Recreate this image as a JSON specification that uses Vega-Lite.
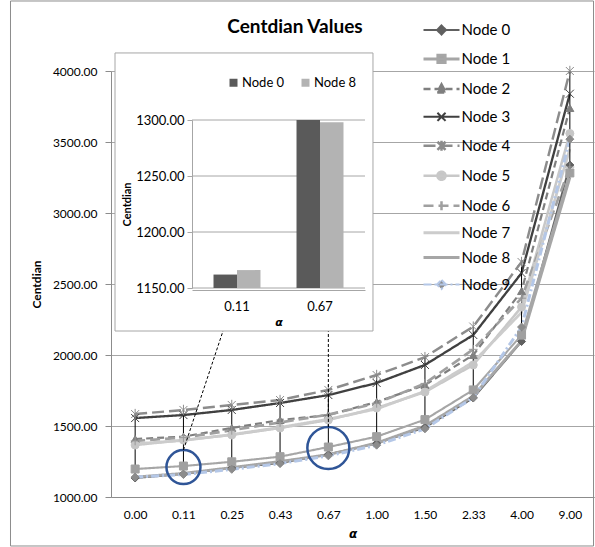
{
  "$schema": "https://vega.github.io/schema/vega-lite/v6.json",
  "width": 483,
  "height": 426,
  "autosize": {"type": "none"},
  "padding": {"left": 111, "top": 71, "right": 1, "bottom": 50},
  "background": "white",
  "config": {"view": {"stroke": null}, "font": "Lato", "axis": {"labelColor": "black", "titleColor": "black"}, "legend": {"labelColor": "black"}},
  "datasets": {
    "centdian": [
      {"node": "Node 0", "alpha": 0, "value": 1134}, {"node": "Node 0", "alpha": 0.11, "value": 1162}, {"node": "Node 0", "alpha": 0.25, "value": 1204}, {"node": "Node 0", "alpha": 0.43, "value": 1240}, {"node": "Node 0", "alpha": 0.67, "value": 1300}, {"node": "Node 0", "alpha": 1, "value": 1378}, {"node": "Node 0", "alpha": 1.5, "value": 1490}, {"node": "Node 0", "alpha": 2.33, "value": 1697}, {"node": "Node 0", "alpha": 4, "value": 2095}, {"node": "Node 0", "alpha": 9, "value": 3338},
      {"node": "Node 1", "alpha": 0, "value": 1197}, {"node": "Node 1", "alpha": 0.11, "value": 1218}, {"node": "Node 1", "alpha": 0.25, "value": 1248}, {"node": "Node 1", "alpha": 0.43, "value": 1284}, {"node": "Node 1", "alpha": 0.67, "value": 1352}, {"node": "Node 1", "alpha": 1, "value": 1425}, {"node": "Node 1", "alpha": 1.5, "value": 1545}, {"node": "Node 1", "alpha": 2.33, "value": 1754}, {"node": "Node 1", "alpha": 4, "value": 2140}, {"node": "Node 1", "alpha": 9, "value": 3282},
      {"node": "Node 2", "alpha": 0, "value": 1408}, {"node": "Node 2", "alpha": 0.11, "value": 1425}, {"node": "Node 2", "alpha": 0.25, "value": 1486}, {"node": "Node 2", "alpha": 0.43, "value": 1542}, {"node": "Node 2", "alpha": 0.67, "value": 1577}, {"node": "Node 2", "alpha": 1, "value": 1669}, {"node": "Node 2", "alpha": 1.5, "value": 1789}, {"node": "Node 2", "alpha": 2.33, "value": 2000}, {"node": "Node 2", "alpha": 4, "value": 2450}, {"node": "Node 2", "alpha": 9, "value": 3739},
      {"node": "Node 3", "alpha": 0, "value": 1556}, {"node": "Node 3", "alpha": 0.11, "value": 1577}, {"node": "Node 3", "alpha": 0.25, "value": 1613}, {"node": "Node 3", "alpha": 0.43, "value": 1662}, {"node": "Node 3", "alpha": 0.67, "value": 1718}, {"node": "Node 3", "alpha": 1, "value": 1803}, {"node": "Node 3", "alpha": 1.5, "value": 1930}, {"node": "Node 3", "alpha": 2.33, "value": 2141}, {"node": "Node 3", "alpha": 4, "value": 2577}, {"node": "Node 3", "alpha": 9, "value": 3840},
      {"node": "Node 4", "alpha": 0, "value": 1584}, {"node": "Node 4", "alpha": 0.11, "value": 1613}, {"node": "Node 4", "alpha": 0.25, "value": 1648}, {"node": "Node 4", "alpha": 0.43, "value": 1683}, {"node": "Node 4", "alpha": 0.67, "value": 1754}, {"node": "Node 4", "alpha": 1, "value": 1859}, {"node": "Node 4", "alpha": 1.5, "value": 1985}, {"node": "Node 4", "alpha": 2.33, "value": 2200}, {"node": "Node 4", "alpha": 4, "value": 2655}, {"node": "Node 4", "alpha": 9, "value": 4000},
      {"node": "Node 5", "alpha": 0, "value": 1366}, {"node": "Node 5", "alpha": 0.11, "value": 1401}, {"node": "Node 5", "alpha": 0.25, "value": 1437}, {"node": "Node 5", "alpha": 0.43, "value": 1486}, {"node": "Node 5", "alpha": 0.67, "value": 1542}, {"node": "Node 5", "alpha": 1, "value": 1627}, {"node": "Node 5", "alpha": 1.5, "value": 1739}, {"node": "Node 5", "alpha": 2.33, "value": 1930}, {"node": "Node 5", "alpha": 4, "value": 2338}, {"node": "Node 5", "alpha": 9, "value": 3560},
      {"node": "Node 6", "alpha": 0, "value": 1395}, {"node": "Node 6", "alpha": 0.11, "value": 1418}, {"node": "Node 6", "alpha": 0.25, "value": 1470}, {"node": "Node 6", "alpha": 0.43, "value": 1525}, {"node": "Node 6", "alpha": 0.67, "value": 1580}, {"node": "Node 6", "alpha": 1, "value": 1660}, {"node": "Node 6", "alpha": 1.5, "value": 1800}, {"node": "Node 6", "alpha": 2.33, "value": 2040}, {"node": "Node 6", "alpha": 4, "value": 2400}, {"node": "Node 6", "alpha": 9, "value": 3324},
      {"node": "Node 7", "alpha": 0, "value": 1375}, {"node": "Node 7", "alpha": 0.11, "value": 1398}, {"node": "Node 7", "alpha": 0.25, "value": 1440}, {"node": "Node 7", "alpha": 0.43, "value": 1490}, {"node": "Node 7", "alpha": 0.67, "value": 1548}, {"node": "Node 7", "alpha": 1, "value": 1620}, {"node": "Node 7", "alpha": 1.5, "value": 1745}, {"node": "Node 7", "alpha": 2.33, "value": 1950}, {"node": "Node 7", "alpha": 4, "value": 2300}, {"node": "Node 7", "alpha": 9, "value": 3450},
      {"node": "Node 8", "alpha": 0, "value": 1140}, {"node": "Node 8", "alpha": 0.11, "value": 1166}, {"node": "Node 8", "alpha": 0.25, "value": 1207}, {"node": "Node 8", "alpha": 0.43, "value": 1250}, {"node": "Node 8", "alpha": 0.67, "value": 1298}, {"node": "Node 8", "alpha": 1, "value": 1380}, {"node": "Node 8", "alpha": 1.5, "value": 1500}, {"node": "Node 8", "alpha": 2.33, "value": 1710}, {"node": "Node 8", "alpha": 4, "value": 2100}, {"node": "Node 8", "alpha": 9, "value": 3250},
      {"node": "Node 9", "alpha": 0, "value": 1140}, {"node": "Node 9", "alpha": 0.11, "value": 1158}, {"node": "Node 9", "alpha": 0.25, "value": 1195}, {"node": "Node 9", "alpha": 0.43, "value": 1235}, {"node": "Node 9", "alpha": 0.67, "value": 1290}, {"node": "Node 9", "alpha": 1, "value": 1365}, {"node": "Node 9", "alpha": 1.5, "value": 1480}, {"node": "Node 9", "alpha": 2.33, "value": 1700}, {"node": "Node 9", "alpha": 4, "value": 2197}, {"node": "Node 9", "alpha": 9, "value": 3520}
    ]
  },
  "layer": [
    {
      "data": {"name": "centdian"},
      "transform": [{"window": [{"op": "dense_rank", "as": "k"}], "sort": [{"field": "alpha", "order": "ascending"}]}],
      "layer": [
        {
          "data": {"values": [{}]},
          "mark": {"type": "rect", "fill": "transparent", "stroke": "#8c8c8c", "strokeWidth": 1},
          "encoding": {
            "x": {"datum": -1.581, "type": "quantitative", "scale": {"domain": [0.5, 10.5], "nice": false, "zero": false}},
            "x2": {"datum": 10.49},
            "y": {"datum": 4493, "type": "quantitative", "scale": {"domain": [1000, 4000], "nice": false, "zero": false}},
            "y2": {"datum": 655}
          }
        },
        {
          "data": {"values": [{}]},
          "mark": {"type": "text", "text": "Centdian Values", "font": "Lato", "fontSize": 19, "fontWeight": "bold", "color": "black", "align": "center", "baseline": "middle"},
          "encoding": {
            "x": {"datum": 4.31, "type": "quantitative", "scale": {"domain": [0.5, 10.5], "nice": false, "zero": false}},
            "y": {"datum": 4310, "type": "quantitative", "scale": {"domain": [1000, 4000], "nice": false, "zero": false}}
          }
        },
        {
          "mark": {"type": "line"},
          "encoding": {
            "x": {"field": "k", "type": "quantitative", "scale": {"domain": [0.5, 10.5], "nice": false, "zero": false},
              "axis": {"orient": "bottom", "values": [1, 2, 3, 4, 5, 6, 7, 8, 9, 10], "labelExpr": "['0.00','0.11','0.25','0.43','0.67','1.00','1.50','2.33','4.00','9.00'][datum.value-1]", "grid": false, "ticks": false, "tickSize": 0, "domainColor": "#8c8c8c", "labelFontSize": 12, "labelPadding": 12, "labelFlush": false, "title": "α", "titleFont": "DejaVu Sans", "titleFontSize": 12, "titleFontWeight": "bold", "titleFontStyle": "italic", "titlePadding": 8}},
            "y": {"field": "value", "type": "quantitative", "scale": {"domain": [1000, 4000], "nice": false, "zero": false},
              "axis": {"orient": "left", "values": [1000, 1500, 2000, 2500, 3000, 3500, 4000], "format": ".2f", "grid": true, "gridColor": "#a6a6a6", "domainColor": "#8c8c8c", "tickColor": "#8c8c8c", "tickSize": 6, "labelPadding": 8, "labelFontSize": 12, "title": "Centdian", "titleFontSize": 12, "titleFontWeight": "bold", "titlePadding": 9}},
            "color": {"field": "node", "type": "nominal",
              "scale": {"domain": ["Node 0", "Node 1", "Node 2", "Node 3", "Node 4", "Node 5", "Node 6", "Node 7", "Node 8", "Node 9"], "range": ["#606060", "#a6a6a6", "#7f7f7f", "#404040", "#8c8c8c", "#c8c8c8", "#a0a0a0", "#cccccc", "#a6a6a6", "#b4c7e7"]},
              "legend": {"orient": "none", "legendX": 330.5, "legendY": -41, "title": null, "padding": 0, "symbolSize": 81, "labelFontSize": 15, "labelOffset": 34, "rowPadding": 9.95, "direction": "vertical",
                "encode": {
                  "labels": {"update": {"dx": {"value": 20}}},
                  "symbols": {"update": {
                  "shape": {"signal": "['M-4,0H4M0,-1L1,0L0,1L-1,0Z','M-4,0H4M-0.8,-0.8H0.8V0.8H-0.8Z','M-4,0H4M0,-1L1,0.8H-1Z','M-4,0H4M-0.9,-0.9L0.9,0.9M-0.9,0.9L0.9,-0.9','M-4,0H4M-0.9,-0.9L0.9,0.9M-0.9,0.9L0.9,-0.9M0,-1.1V1.1','M-4,0H4M0.9,0A0.9,0.9,0,1,1,-0.9,0A0.9,0.9,0,1,1,0.9,0Z','M-4,0H4M0,-1V1','M-4,0H4','M-4,0H4','M-4,0H4M0,-1L1,0L0,1L-1,0Z'][datum.index]"},
                  "fill": {"signal": "['#606060','#a0a0a0','#7f7f7f','transparent','#8c8c8c','#c6c6c6','transparent','transparent','transparent','#8c8c8c'][datum.index]"},
                  "fillOpacity": {"value": 1},
                  "strokeDash": {"signal": "[[1,0],[1,0],[7,4],[1,0],[12,5],[1,0],[10,5],[1,0],[1,0],[8,3,2,3]][datum.index]"},
                  "strokeWidth": {"signal": "[2,3,2.5,2,2.5,2.5,2.5,3,3,2][datum.index]"}
                }}}}},
            "strokeDash": {"field": "node", "type": "nominal", "legend": null,
              "scale": {"domain": ["Node 0", "Node 1", "Node 2", "Node 3", "Node 4", "Node 5", "Node 6", "Node 7", "Node 8", "Node 9"], "range": [[1, 0], [1, 0], [7, 4], [1, 0], [12, 5], [1, 0], [10, 5], [1, 0], [1, 0], [8, 3, 2, 3]]}},
            "strokeWidth": {"field": "node", "type": "nominal", "legend": null,
              "scale": {"domain": ["Node 0", "Node 1", "Node 2", "Node 3", "Node 4", "Node 5", "Node 6", "Node 7", "Node 8", "Node 9"], "range": [2, 3, 2.5, 2, 2.5, 2.5, 2.5, 3, 3, 2]}}
          }
        },
        {
          "transform": [{"aggregate": [{"op": "min", "field": "value", "as": "lo"}, {"op": "max", "field": "value", "as": "hi"}], "groupby": ["k"]}],
          "mark": {"type": "rule", "color": "black", "strokeWidth": 1},
          "encoding": {
            "x": {"field": "k", "type": "quantitative", "scale": {"domain": [0.5, 10.5], "nice": false, "zero": false}},
            "y": {"field": "lo", "type": "quantitative", "scale": {"domain": [1000, 4000], "nice": false, "zero": false}},
            "y2": {"field": "hi"}
          }
        },
        {
          "transform": [{"filter": {"not": {"field": "node", "oneOf": ["Node 7", "Node 8"]}}}],
          "mark": {"type": "point", "filled": true, "size": 64, "strokeWidth": 1, "opacity": 1},
          "encoding": {
            "x": {"field": "k", "type": "quantitative", "scale": {"domain": [0.5, 10.5], "nice": false, "zero": false}},
            "y": {"field": "value", "type": "quantitative", "scale": {"domain": [1000, 4000], "nice": false, "zero": false}},
            "shape": {"field": "node", "type": "nominal", "legend": null,
              "scale": {"domain": ["Node 0", "Node 1", "Node 2", "Node 3", "Node 4", "Node 5", "Node 6", "Node 9"], "range": ["diamond", "square", "triangle-up", "M-1,-1L1,1M-1,1L1,-1", "M-1,-1L1,1M-1,1L1,-1M0,-1.3V1.3", "circle", "M-1.1,0H1.1M0,-1.1V1.1", "diamond"]}},
            "fill": {"field": "node", "type": "nominal", "legend": null,
              "scale": {"domain": ["Node 0", "Node 1", "Node 2", "Node 3", "Node 4", "Node 5", "Node 6", "Node 9"], "range": ["#606060", "#a0a0a0", "#7f7f7f", "#404040", "#8c8c8c", "#c6c6c6", "#a0a0a0", "#8c8c8c"]}},
            "stroke": {"field": "node", "type": "nominal", "legend": null,
              "scale": {"domain": ["Node 0", "Node 1", "Node 2", "Node 3", "Node 4", "Node 5", "Node 6", "Node 9"], "range": ["#606060", "#a0a0a0", "#7f7f7f", "#404040", "#8c8c8c", "#c6c6c6", "#999999", "#8c8c8c"]}}
          }
        },
        {
          "data": {"values": [{}]},
          "mark": {"type": "point", "shape": "circle", "filled": false, "size": 1156, "stroke": "#2f5597", "strokeWidth": 2.5, "opacity": 1},
          "encoding": {
            "x": {"datum": 2, "type": "quantitative", "scale": {"domain": [0.5, 10.5], "nice": false, "zero": false}},
            "y": {"datum": 1211, "type": "quantitative", "scale": {"domain": [1000, 4000], "nice": false, "zero": false}}
          }
        },
        {
          "data": {"values": [{}]},
          "mark": {"type": "point", "shape": "circle", "filled": false, "size": 1764, "stroke": "#2f5597", "strokeWidth": 2.5, "opacity": 1},
          "encoding": {
            "x": {"datum": 5, "type": "quantitative", "scale": {"domain": [0.5, 10.5], "nice": false, "zero": false}},
            "y": {"datum": 1345, "type": "quantitative", "scale": {"domain": [1000, 4000], "nice": false, "zero": false}}
          }
        },
        {
          "data": {"values": [{"arrow": 1, "k": 2, "value": 1331}, {"arrow": 1, "k": 2.984, "value": 2338}, {"arrow": 2, "k": 5, "value": 1493}, {"arrow": 2, "k": 5, "value": 2310}]},
          "mark": {"type": "line", "color": "black", "strokeWidth": 1, "strokeDash": [3, 2]},
          "encoding": {
            "x": {"field": "k", "type": "quantitative", "scale": {"domain": [0.5, 10.5], "nice": false, "zero": false}},
            "y": {"field": "value", "type": "quantitative", "scale": {"domain": [1000, 4000], "nice": false, "zero": false}},
            "detail": {"field": "arrow", "type": "nominal"}
          }
        },
        {
          "data": {"values": [{}]},
          "mark": {"type": "point", "shape": "M-1,1L0,0L1,1", "filled": false, "size": 60, "stroke": "black", "strokeWidth": 1, "angle": 18, "opacity": 1},
          "encoding": {
            "x": {"datum": 2.984, "type": "quantitative", "scale": {"domain": [0.5, 10.5], "nice": false, "zero": false}},
            "y": {"datum": 2338, "type": "quantitative", "scale": {"domain": [1000, 4000], "nice": false, "zero": false}}
          }
        },
        {
          "data": {"values": [{}]},
          "mark": {"type": "point", "shape": "M-1,1L0,0L1,1", "filled": false, "size": 60, "stroke": "black", "strokeWidth": 1, "angle": 0, "opacity": 1},
          "encoding": {
            "x": {"datum": 5, "type": "quantitative", "scale": {"domain": [0.5, 10.5], "nice": false, "zero": false}},
            "y": {"datum": 2310, "type": "quantitative", "scale": {"domain": [1000, 4000], "nice": false, "zero": false}}
          }
        },
        {
          "data": {"values": [{}]},
          "mark": {"type": "rect", "fill": "white", "stroke": "#a6a6a6", "strokeWidth": 1},
          "encoding": {
            "x": {"datum": 0.583, "type": "quantitative", "scale": {"domain": [0.5, 10.5], "nice": false, "zero": false}},
            "x2": {"datum": 5.924},
            "y": {"datum": 4127, "type": "quantitative", "scale": {"domain": [1000, 4000], "nice": false, "zero": false}},
            "y2": {"datum": 2169}
          }
        }
      ]
    },
    {
      "layer": [
        {
          "data": {"values": [{"tick": 1150}, {"tick": 1200}, {"tick": 1250}, {"tick": 1300}]},
          "mark": {"type": "rule", "color": "#a6a6a6", "strokeWidth": 1},
          "encoding": {
            "x": {"datum": 0, "type": "quantitative", "scale": {"domain": [0, 1], "range": [81, 254], "nice": false, "zero": false}, "axis": null},
            "x2": {"datum": 1},
            "y": {"field": "tick", "type": "quantitative", "scale": {"domain": [1150, 1300], "range": [217, 49], "nice": false, "zero": false},
              "axis": {"orient": "left", "offset": -81, "zindex": 1, "values": [1150, 1200, 1250, 1300], "format": ".2f", "grid": false, "domainColor": "#a6a6a6", "tickColor": "#a6a6a6", "tickSize": 5, "labelPadding": 3, "labelFontSize": 13, "title": "Centdian", "titleFontSize": 11, "titleFontWeight": "bold", "titlePadding": 3}}
          }
        },
        {
          "data": {"name": "centdian"},
          "transform": [{"filter": {"field": "node", "oneOf": ["Node 0", "Node 8"]}}, {"filter": {"field": "alpha", "oneOf": [0.11, 0.67]}}],
          "mark": {"type": "bar"},
          "encoding": {
            "x": {"field": "alpha", "type": "nominal", "scale": {"range": [81, 254], "paddingInner": 0.434, "paddingOuter": 0.259},
              "axis": {"orient": "bottom", "offset": -207, "zindex": 1, "labelAngle": 0, "ticks": false, "tickSize": 0, "domainColor": "#a6a6a6", "labelFontSize": 13, "labelPadding": 10, "title": "α", "titleFont": "DejaVu Sans", "titleFontSize": 11, "titleFontWeight": "bold", "titleFontStyle": "italic", "titlePadding": 3}},
            "xOffset": {"field": "node", "type": "nominal", "scale": {"paddingInner": 0}},
            "y": {"field": "value", "type": "quantitative", "scale": {"domain": [1150, 1300], "range": [217, 49], "nice": false, "zero": false},
              "axis": {"orient": "left", "offset": -81, "zindex": 1, "values": [1150, 1200, 1250, 1300], "format": ".2f", "grid": false, "domainColor": "#a6a6a6", "tickColor": "#a6a6a6", "tickSize": 5, "labelPadding": 3, "labelFontSize": 13, "title": "Centdian", "titleFontSize": 11, "titleFontWeight": "bold", "titlePadding": 3}},
            "y2": {"datum": 1150},
            "color": {"field": "node", "type": "nominal", "scale": {"domain": ["Node 0", "Node 8"], "range": ["#5a5a5a", "#b3b3b3"]},
              "legend": {"orient": "none", "legendX": 116, "legendY": 5, "direction": "horizontal", "title": null, "padding": 0, "symbolType": "square", "symbolSize": 64, "labelFontSize": 13, "labelOffset": 2, "columnPadding": 14}}
          }
        }
      ],
      "resolve": {"scale": {"x": "independent"}}
    }
  ],
  "resolve": {"scale": {"x": "independent", "y": "independent", "color": "independent"}, "legend": {"color": "independent"}}
}
